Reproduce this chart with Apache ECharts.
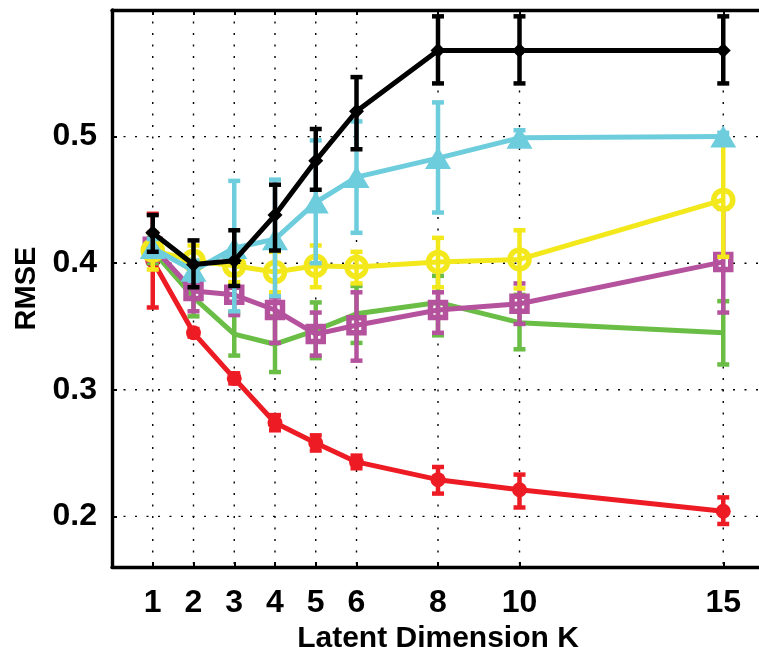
<!DOCTYPE html>
<html>
<head>
<meta charset="utf-8">
<script src="https://cdn.jsdelivr.net/npm/echarts@6/dist/echarts.min.js"></script>
<style>
  html, body { margin: 0; padding: 0; background: #fff; }
  #chart { width: 759px; height: 647px; }
</style>
</head>
<body>
<div id="chart"></div>
<script>
// Latent dimension values on the x axis
const K = [1, 2, 3, 4, 5, 6, 8, 10, 15];
const xTicks = [1, 2, 3, 4, 5, 6, 8, 10, 15];
const yTicks = [0.2, 0.3, 0.4, 0.5];

// RMSE means with lower / upper error-bar ends
const redMean = [0.402, 0.345, 0.309, 0.274, 0.258, 0.243, 0.229, 0.221, 0.204];
const redLo   = [0.365, 0.342, 0.305, 0.268, 0.252, 0.238, 0.218, 0.207, 0.194];
const redHi   = [0.439, 0.348, 0.313, 0.280, 0.264, 0.248, 0.239, 0.233, 0.215];

const greenMean = [0.410, 0.373, 0.344, 0.336, 0.347, 0.360, 0.369, 0.353, 0.345];
const greenLo   = [0.400, 0.358, 0.327, 0.314, 0.325, 0.337, 0.343, 0.332, 0.320];
const greenHi   = [0.420, 0.388, 0.361, 0.358, 0.369, 0.382, 0.390, 0.375, 0.370];

const magentaMean = [0.413, 0.378, 0.375, 0.363, 0.344, 0.351, 0.363, 0.368, 0.401];
const magentaLo   = [0.402, 0.362, 0.359, 0.337, 0.327, 0.323, 0.345, 0.352, 0.361];
const magentaHi   = [0.424, 0.394, 0.391, 0.373, 0.361, 0.377, 0.377, 0.384, 0.443];

const yellowMean = [0.410, 0.402, 0.398, 0.393, 0.398, 0.397, 0.401, 0.403, 0.450];
const yellowLo   = [0.395, 0.390, 0.385, 0.377, 0.381, 0.384, 0.381, 0.380, 0.405];
const yellowHi   = [0.424, 0.414, 0.411, 0.409, 0.414, 0.409, 0.420, 0.426, 0.494];

const cyanMean = [0.412, 0.394, 0.412, 0.419, 0.448, 0.468, 0.483, 0.499, 0.500];
const cyanLo   = [0.405, 0.386, 0.362, 0.374, 0.400, 0.424, 0.440, 0.493, 0.497];
const cyanHi   = [0.419, 0.402, 0.465, 0.466, 0.497, 0.512, 0.527, 0.505, 0.503];

const blackMean = [0.424, 0.399, 0.402, 0.438, 0.481, 0.520, 0.568, 0.568, 0.568];
const blackLo   = [0.409, 0.381, 0.382, 0.410, 0.458, 0.490, 0.542, 0.542, 0.542];
const blackHi   = [0.438, 0.418, 0.426, 0.462, 0.506, 0.547, 0.595, 0.595, 0.595];

const FONT = "'Liberation Sans', Arial, Helvetica, sans-serif";

const groups = [
  { color: '#ed1c24', mean: redMean, lo: redLo, hi: redHi, symbol: 'circle', size: 15, hollow: false },
  { color: '#6abd45', mean: greenMean, lo: greenLo, hi: greenHi, symbol: 'none', size: 0, hollow: false },
  { color: '#b5529e', mean: magentaMean, lo: magentaLo, hi: magentaHi, symbol: 'rect', size: 15, hollow: true, border: 5.5 },
  { color: '#f3e81b', mean: yellowMean, lo: yellowLo, hi: yellowHi, symbol: 'circle', size: 19, hollow: true, border: 5.5 },
  { color: '#6ecddd', mean: cyanMean, lo: cyanLo, hi: cyanHi, symbol: 'triangle', size: [26, 22], hollow: false },
  { color: '#000000', mean: blackMean, lo: blackLo, hi: blackHi, symbol: 'diamond', size: [15, 15], hollow: false }
];

function errorBars(color) {
  return function (params, api) {
    const x = api.value(0);
    const pl = api.coord([x, api.value(1)]);
    const ph = api.coord([x, api.value(2)]);
    const hw = 6;
    const style = { stroke: color, lineWidth: 4.5, fill: null };
    return {
      type: 'group',
      children: [
        { type: 'line', shape: { x1: pl[0], y1: pl[1], x2: ph[0], y2: ph[1] }, style: style },
        { type: 'line', shape: { x1: pl[0] - hw, y1: pl[1], x2: pl[0] + hw, y2: pl[1] }, style: style },
        { type: 'line', shape: { x1: ph[0] - hw, y1: ph[1], x2: ph[0] + hw, y2: ph[1] }, style: style }
      ]
    };
  };
}

// dotted grid drawn at the tick values
function gridLines(vertical) {
  return function (params, api) {
    const cs = params.coordSys;
    const p = api.coord([api.value(0), api.value(1)]);
    const shape = vertical
      ? { x1: p[0], y1: cs.y, x2: p[0], y2: cs.y + cs.height }
      : { x1: cs.x, y1: p[1], x2: cs.x + cs.width, y2: p[1] };
    return {
      type: 'line', shape: shape,
      style: { stroke: '#000', lineWidth: 1.4, lineDash: [2, 9.5], fill: null }
    };
  };
}

const series = [
  {
    type: 'custom', z: 1, silent: true, clip: true,
    data: xTicks.map(v => [v, 0.3]),
    renderItem: gridLines(true)
  },
  {
    type: 'custom', z: 1, silent: true, clip: true,
    data: yTicks.map(v => [1, v]),
    renderItem: gridLines(false)
  }
];

groups.forEach((g, i) => {
  series.push({
    type: 'custom', z: 2 + i * 2, silent: true,
    data: K.map((k, j) => [k, g.lo[j], g.hi[j]]),
    encode: { x: 0, y: [1, 2] },
    renderItem: errorBars(g.color)
  });
  series.push({
    type: 'line', z: 3 + i * 2, silent: true,
    data: K.map((k, j) => [k, g.mean[j]]),
    symbol: g.symbol,
    symbolSize: g.size,
    showSymbol: g.symbol !== 'none',
    lineStyle: { color: g.color, width: 5 },
    itemStyle: g.hollow
      ? { color: 'rgba(255,255,255,0)', borderColor: g.color, borderWidth: g.border }
      : { color: g.color, borderWidth: 0 },
    animation: false
  });
});

const tickFont = { fontFamily: FONT, fontWeight: 'bold', fontSize: 32, color: '#000' };

const option = {
  animation: false,
  grid: { left: 112, top: 10, right: -5, bottom: 80, containLabel: false, outerBoundsMode: 'none' },
  xAxis: [
    {
      type: 'value', min: 0, max: 16, position: 'bottom',
      name: 'Latent Dimension K', nameLocation: 'middle', nameGap: 51,
      nameTextStyle: { fontFamily: FONT, fontWeight: 'bold', fontSize: 30, color: '#000' },
      axisLine: { show: true, onZero: false, lineStyle: { color: '#000', width: 3.4 } },
      axisTick: { show: true, inside: true, length: 5, customValues: xTicks, lineStyle: { color: '#000', width: 2 } },
      axisLabel: Object.assign({ margin: 20, customValues: xTicks }, tickFont),
      splitLine: { show: false }
    },
    {
      type: 'value', min: 0, max: 16, position: 'top',
      axisLine: { show: true, onZero: false, lineStyle: { color: '#000', width: 3.4 } },
      axisTick: { show: true, inside: true, length: 5, customValues: xTicks, lineStyle: { color: '#000', width: 2 } },
      axisLabel: { show: false },
      splitLine: { show: false }
    }
  ],
  yAxis: {
    type: 'value', min: 0.16, max: 0.6,
    name: 'RMSE', nameLocation: 'middle', nameGap: 70,
    nameTextStyle: { fontFamily: FONT, fontWeight: 'bold', fontSize: 29, color: '#000' },
    axisLine: { show: true, onZero: false, lineStyle: { color: '#000', width: 3.4 } },
    axisTick: { show: true, inside: true, length: 5, customValues: yTicks, lineStyle: { color: '#000', width: 2 } },
    axisLabel: Object.assign({ margin: 15, customValues: yTicks, formatter: v => v.toFixed(1) }, tickFont),
    splitLine: { show: false }
  },
  series: series
};

const chart = echarts.init(document.getElementById('chart'), null, { renderer: 'canvas' });
chart.setOption(option);
</script>
</body>
</html>
